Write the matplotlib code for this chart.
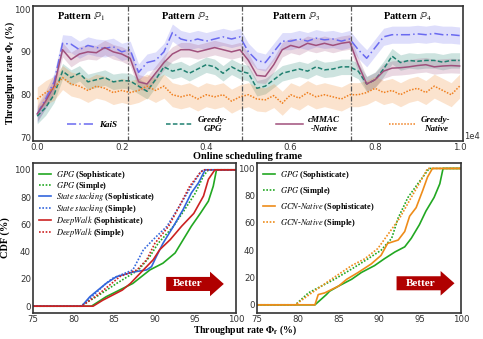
import numpy as np
import matplotlib
matplotlib.use("Agg")
import matplotlib.pyplot as plt
from matplotlib.patches import FancyArrow
from matplotlib.ticker import FuncFormatter

plt.rcParams['font.family'] = 'serif'
plt.rcParams['font.serif'] = ['Liberation Serif', 'DejaVu Serif']
plt.rcParams['mathtext.fontset'] = 'stix'

########################
### top panel data #####
########################
frames = np.arange(0, 10001, 200)
pattern_bounds = [2150, 4850, 7420]
pattern_names = [r'Pattern $\mathbb{P}_1$', r'Pattern $\mathbb{P}_2$',
                 r'Pattern $\mathbb{P}_3$', r'Pattern $\mathbb{P}_4$']

kais = [75.5, 79, 83, 92, 91.8, 90.5, 91.5, 91, 90.8, 91.2, 90, 90.5, 85.2, 87.5, 88, 90,
        94.5, 93, 92.5, 93, 92.5, 93, 93.5, 93, 93.5, 90, 88, 87.5, 90, 92.5, 92.5, 93,
        92.5, 93.2, 92.8, 93, 92.5, 93, 90.5, 88.5, 91, 93.5, 94, 94, 94, 94.2, 94, 94.3,
        94, 94, 93.8]
cmmac = [75.5, 78.5, 82, 90.5, 88.2, 89.5, 90, 89.8, 91, 90, 89.5, 88.5, 83, 82.5, 85, 87.5,
         89.5, 90.5, 90.5, 90, 90.5, 91, 90.5, 90, 90.5, 88, 84.5, 84.3, 87, 90.5, 91.5, 91,
         92, 91.5, 92, 91.5, 92, 92.3, 87, 82.5, 83.5, 85.5, 86.2, 86.3, 86.5, 86.8, 87, 86.5,
         86.7, 86.8, 86.7]
greedy_gpg = [75, 77, 80, 85.5, 84, 85, 83, 83.5, 84, 83, 83.3, 83.2, 82, 80.8, 83.5, 86.5,
              85.5, 86, 85, 86, 87, 86.5, 85, 86.5, 85.5, 85, 81.5, 82, 83.5, 85, 85.5, 86,
              85.5, 86.5, 85.8, 86, 86.5, 86.5, 85.5, 82.5, 83.5, 86, 89, 87.5, 88, 87.8, 88,
              88, 87.6, 88, 88]
greedy_native = [79, 80.5, 81.5, 84, 82.5, 82, 81, 82, 81.5, 80.5, 81, 80.5, 81, 82, 81, 82,
                 80, 79.5, 80, 79, 80, 79.5, 80, 78.5, 79.5, 80, 79, 78.8, 79.8, 78, 80, 79.2,
                 80.5, 79.5, 80, 79.5, 79, 80, 80, 80.5, 81.5, 80.5, 81, 80, 81, 81.5, 80.5,
                 82, 81, 80, 82]
spread = {'kais': 2.0, 'cmmac': 1.7, 'gpg': 1.8, 'native': 2.8}

########################
### CDF data (left) ####
########################
gpg_soph_x = [75, 82.2, 84, 87.3, 89.4, 91, 92.5, 93.5, 94.5, 95.6, 96.6, 97.2, 97.6, 100]
gpg_soph_y = [0, 0, 6.9, 16.7, 26.6, 31.5, 39, 48.8, 58.6, 68, 77, 88, 100, 100]
gpg_simp_x = [75, 80.8, 82.8, 85.3, 88, 89.4, 90.4, 92.3, 93.7, 95, 96, 96.6, 100]
gpg_simp_y = [0, 0, 6.9, 16.7, 26.6, 36.5, 46, 58.6, 71, 83, 95.6, 100, 100]
ss_soph_x = [75, 81, 82, 84, 85.3, 87.3, 89, 89.6, 90.2, 91, 92.3, 93.5, 94.5, 95.4, 95.6, 96.2, 100]
ss_soph_y = [0, 0, 6.9, 16.7, 21.7, 25, 26.6, 29, 36.5, 46, 58.6, 71, 83, 90.6, 93, 100, 100]
ss_simp_x = [75, 81, 84, 84.8, 87.3, 88.6, 89.8, 91.5, 93, 94.5, 95.6, 96, 100]
ss_simp_y = [0, 0, 16.7, 20.4, 26.6, 41.4, 48.8, 58.6, 73, 88, 98, 100, 100]
dw_soph_x = [75, 82.4, 83.6, 86, 87, 87.8, 88.6, 89.8, 90.6, 91.9, 93.3, 94.8, 96, 96.6, 97.4, 100]
dw_soph_y = [0, 0, 4.4, 11.8, 16.7, 21.7, 26.6, 34, 41.4, 48.8, 58.6, 68, 80.8, 93, 100, 100]
dw_simp_x = [75, 81, 83.2, 85.7, 87.8, 89, 90, 91.7, 93, 94.3, 95.6, 96, 100]
dw_simp_y = [0, 0, 9.4, 21.7, 26.6, 34, 46, 58.6, 73, 88, 98, 100, 100]

#########################
### CDF data (right) ####
#########################
r_gpg_soph_x = [75, 82.1, 83.5, 83.9, 85, 86.6, 87.8, 89.4, 90.6, 91.9, 93.1, 93.9, 94.9, 95.7, 96.7, 97.4, 97.8, 100]
r_gpg_soph_y = [0, 0, 7.5, 10, 13.75, 18.75, 23.75, 28.75, 33.75, 38.75, 42.5, 48.75, 58.75, 68.75, 78.75, 88.75, 100, 100]
r_gpg_simp_x = [75, 79.7, 81.3, 82.9, 84.5, 86.6, 88.6, 90.2, 91.5, 92.3, 93.5, 94.7, 96.1, 100]
r_gpg_simp_y = [0, 0, 8.75, 13.75, 18.75, 26.25, 33.75, 40, 48.75, 63.75, 78.75, 88.75, 100, 100]
gcn_soph_x = [75, 82.1, 82.5, 83.3, 85, 86, 87.4, 89, 90.2, 91, 92.3, 93.1, 93.7, 94.5, 95.3, 95.9, 96.5, 100]
gcn_soph_y = [0, 0, 7.5, 8.75, 13.75, 18.75, 23.75, 30, 36.25, 45, 47.5, 53.75, 65, 71.25, 83.75, 93.75, 100, 100]
gcn_simp_x = [75, 79.7, 81.7, 84.1, 86.6, 88.2, 89.8, 91, 92.5, 93.9, 95.1, 95.9, 100]
gcn_simp_y = [0, 0, 8.75, 18.75, 28.75, 33.75, 41.25, 51.25, 63.75, 78.75, 91.25, 100, 100]

fig = plt.figure(figsize=(4.83, 3.39), dpi=100)
ax_top = fig.add_axes([0.0683, 0.5841, 0.8903, 0.3982])
ax_l = fig.add_axes([0.0683, 0.0767, 0.4203, 0.4425])
ax_r = fig.add_axes([0.5321, 0.0767, 0.4224, 0.4425])

tick_kw = dict(labelsize=6.2, length=0, pad=1.5, labelcolor='#333333', labelfontfamily='DejaVu Sans')
dots = (0, (1, 1.0))

# ---- top panel ----
series = [(kais, 'kais', '#6a6af0', (0, (6, 2, 1, 2)), 'KaiS'),
          (greedy_gpg, 'gpg', '#1f8070', (0, (3, 1.5)), 'Greedy-\nGPG'),
          (cmmac, 'cmmac', '#a0507c', '-', 'cMMAC\n-Native'),
          (greedy_native, 'native', '#f08020', dots, 'Greedy-\nNative')]
# bands first
for vals, key, col, ls, lab in series:
    v = np.array(vals)
    ax_top.fill_between(frames, v - spread[key], v + spread[key], color=col, alpha=0.22, lw=0)
for vals, key, col, ls, lab in series:
    ax_top.plot(frames, vals, color=col, ls=ls, lw=1.1, label=lab)

edges = [-100] + pattern_bounds + [10080]
for b in pattern_bounds:
    ax_top.axvline(b, color='#555555', ls=(0, (4, 1.5, 1, 1.5)), lw=0.9)
for i, name in enumerate(pattern_names):
    ax_top.text((edges[i] + edges[i + 1]) / 2, 98.3, name, ha='center', va='center',
                fontsize=7.5, fontweight='bold')

ax_top.set_xlim(-100, 10080)
ax_top.set_ylim(69.2, 100.7)
ax_top.set_yticks([70, 80, 90, 100])
ax_top.set_xticks([0, 2000, 4000, 6000, 8000, 10000])
ax_top.xaxis.set_major_formatter(FuncFormatter(lambda v, p: '%.1f' % (v / 1e4)))
ax_top.tick_params(**tick_kw)
ax_top.text(1.003, 0.0, '1e4', transform=ax_top.transAxes, fontsize=6, family='DejaVu Sans',
            color='#333333', ha='left', va='bottom')
ax_top.set_ylabel(r'Throughput rate $\mathbf{\Phi_f}$ (%)', fontsize=7, fontweight='bold')
ax_top.yaxis.set_label_coords(-0.038, 0.5)
ax_top.set_xlabel('Online scheduling frame', fontsize=7.5, fontweight='bold', labelpad=0)
leg = ax_top.legend(loc='lower left', bbox_to_anchor=(0.06, 0.0, 0.93, 0.2), mode='expand', ncol=4,
                    frameon=False, handlelength=3.0, handletextpad=0.6,
                    prop=dict(family='serif', style='italic', weight='bold', size=6.5))
for t in leg.get_texts():
    t.set_multialignment('center')
for sp in ax_top.spines.values():
    sp.set_linewidth(1.2)
    sp.set_color('#333333')

# ---- bottom panels ----
green, blue, red, orange = '#22a822', '#3366dd', '#cc2222', '#ee8c1a'
ax_l.plot(gpg_soph_x, gpg_soph_y, color=green, lw=1.2, label=r'$\mathit{GPG}$ (Sophisticate)')
ax_l.plot(gpg_simp_x, gpg_simp_y, color=green, lw=1.2, ls=dots, label=r'$\mathit{GPG}$ (Simple)')
ax_l.plot(ss_soph_x, ss_soph_y, color=blue, lw=1.2, label=r'$\mathit{State\ stacking}$ (Sophisticate)')
ax_l.plot(ss_simp_x, ss_simp_y, color=blue, lw=1.2, ls=dots, label=r'$\mathit{State\ stacking}$ (Simple)')
ax_l.plot(dw_soph_x, dw_soph_y, color=red, lw=1.2, label=r'$\mathit{DeepWalk}$ (Sophisticate)')
ax_l.plot(dw_simp_x, dw_simp_y, color=red, lw=1.2, ls=dots, label=r'$\mathit{DeepWalk}$ (Simple)')

ax_r.plot(r_gpg_soph_x, r_gpg_soph_y, color=green, lw=1.2, label=r'$\mathit{GPG}$ (Sophisticate)')
ax_r.plot(r_gpg_simp_x, r_gpg_simp_y, color=green, lw=1.2, ls=dots, label=r'$\mathit{GPG}$ (Simple)')
ax_r.plot(gcn_soph_x, gcn_soph_y, color=orange, lw=1.2, label=r'$\mathit{GCN}$-$\mathit{Native}$ (Sophisticate)')
ax_r.plot(gcn_simp_x, gcn_simp_y, color=orange, lw=1.2, ls=dots, label=r'$\mathit{GCN}$-$\mathit{Native}$ (Simple)')

arrows = [(ax_l, 91.4, 98.5, 16.3, 94.1), (ax_r, 92.1, 99.2, 15.8, 95.0)]
for ax, x0, x1, yc, xt in arrows:
    ax.add_patch(FancyArrow(x0, yc, x1 - x0, 0, width=10.3, head_width=18, head_length=1.7,
                            length_includes_head=True, color='#b00000', lw=0))
    ax.text(xt, yc, 'Better', color='white', fontsize=8, fontweight='bold', ha='center', va='center')

for ax in (ax_l, ax_r):
    ax.set_xlim(75, 100)
    ax.set_xticks([75, 80, 85, 90, 95, 100])
    ax.set_yticks([0, 20, 40, 60, 80, 100])
    ax.tick_params(**tick_kw)
    for sp in ax.spines.values():
        sp.set_linewidth(1.2)
        sp.set_color('#333333')
ax_l.set_ylim(-5, 105)
ax_r.set_ylim(-6, 104)
ax_l.legend(loc='upper left', frameon=False, handlelength=1.5, handletextpad=0.6, labelspacing=-0.15,
            borderaxespad=0.3, prop=dict(family='serif', weight='bold', size=6))
ax_r.legend(loc='upper left', frameon=False, handlelength=1.5, handletextpad=0.6, labelspacing=0.5,
            borderaxespad=0.3, prop=dict(family='serif', weight='bold', size=6))
ax_l.set_ylabel('CDF (%)', fontsize=7.5, fontweight='bold', labelpad=3)
fig.text(0.507, 0.025, r'Throughput rate $\mathbf{\Phi_f}$ (%)', ha='center', va='center',
         fontsize=7, fontweight='bold')

fig.savefig('out.png', dpi=100)
